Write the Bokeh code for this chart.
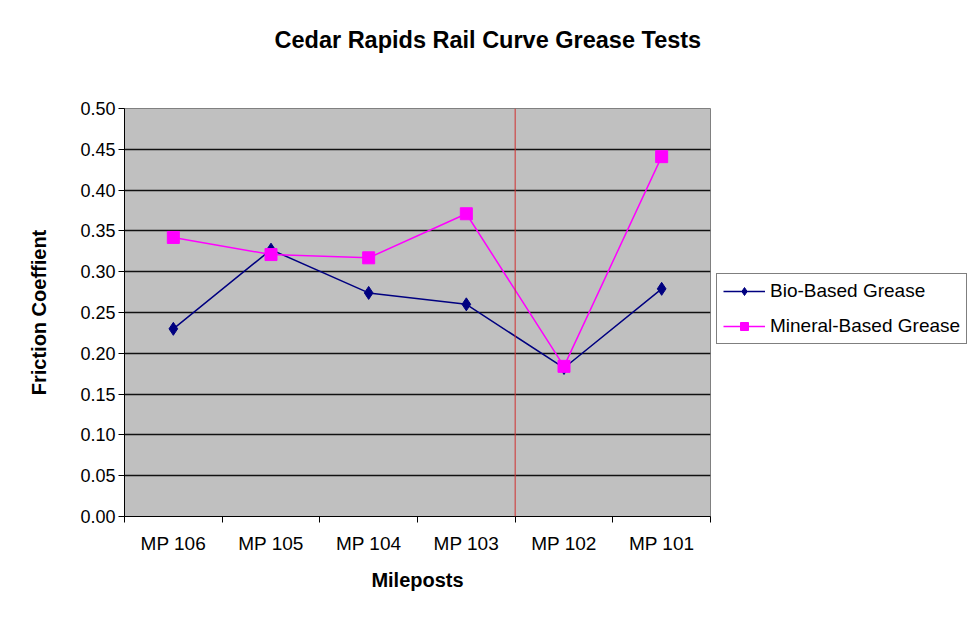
from bokeh.plotting import figure
from bokeh.layouts import row
from bokeh.models import (FixedTicker, Span, Legend, LegendItem,
                          ColumnDataSource, Range1d, NumeralTickFormatter)
from bokeh.embed import file_html
from bokeh.resources import INLINE

categories = ["MP 106", "MP 105", "MP 104", "MP 103", "MP 102", "MP 101"]
bio_based = [0.230, 0.327, 0.274, 0.260, 0.182, 0.279]
mineral_based = [0.342, 0.321, 0.317, 0.371, 0.184, 0.441]
y_ticks = [0.00, 0.05, 0.10, 0.15, 0.20, 0.25, 0.30, 0.35, 0.40, 0.45, 0.50]
series_names = ["Bio-Based Grease", "Mineral-Based Grease"]
divider_after = "MP 103"

xpos = [i + 0.5 for i in range(len(categories))]
src = ColumnDataSource(dict(x=xpos, cat=categories, bio=bio_based, mineral=mineral_based))

FONT = "Liberation Sans"
BIO_C = "#000080"
MIN_C = "#FF00FF"

p = figure(width=711, height=618, output_backend="svg", toolbar_location=None,
           x_range=Range1d(0, len(categories)), y_range=Range1d(0, 0.5),
           min_border_left=124, min_border_right=1, min_border_top=108,
           min_border_bottom=102)

p.background_fill_color = "#C0C0C0"
p.border_fill_color = "white"
p.outline_line_color = "#808080"
p.outline_line_width = 1

p.title.text = "Cedar Rapids Rail Curve Grease Tests\n"
p.title.text_font = FONT
p.title.text_font_style = "bold"
p.title.text_font_size = "23.5px"
p.title.text_line_height = 1.4
p.title.text_color = "black"
p.title.align = "left"
p.title.offset = 150
p.title.vertical_align = "top"
p.title.standoff = 36

# y axis
p.yaxis.ticker = FixedTicker(ticks=y_ticks)
p.yaxis.formatter = NumeralTickFormatter(format="0.00")
p.yaxis.axis_line_color = "black"
p.yaxis.major_tick_line_color = "black"
p.yaxis.major_tick_out = 6
p.yaxis.major_tick_in = 0
p.yaxis.minor_tick_line_color = None
p.yaxis.major_label_text_font = FONT
p.yaxis.major_label_text_font_size = "18px"
p.yaxis.major_label_text_color = "black"
p.yaxis.major_label_standoff = 3
p.yaxis.axis_label = "Friction Coeffient"
p.yaxis.axis_label_text_font = FONT
p.yaxis.axis_label_text_font_style = "bold"
p.yaxis.axis_label_text_font_size = "20px"
p.yaxis.axis_label_text_color = "black"
p.yaxis.axis_label_standoff = 27

# x axis: labels at centres, ticks at boundaries
p.xaxis.ticker = FixedTicker(ticks=xpos, minor_ticks=list(range(len(categories) + 1)))
p.xaxis.major_label_overrides = {x: c for x, c in zip(xpos, categories)}
p.xaxis.major_tick_line_color = None
p.xaxis.major_tick_out = 0
p.xaxis.major_tick_in = 0
p.xaxis.minor_tick_line_color = "black"
p.xaxis.minor_tick_out = 6
p.xaxis.minor_tick_in = 0
p.xaxis.axis_line_color = "black"
p.xaxis.major_label_text_font = FONT
p.xaxis.major_label_text_font_size = "19px"
p.xaxis.major_label_text_color = "black"
p.xaxis.major_label_standoff = 10
p.xaxis.axis_label = "Mileposts"
p.xaxis.axis_label_text_font = FONT
p.xaxis.axis_label_text_font_style = "bold"
p.xaxis.axis_label_text_font_size = "20px"
p.xaxis.axis_label_text_color = "black"
p.xaxis.axis_label_standoff = 12

p.xgrid.grid_line_color = None
p.ygrid.ticker = FixedTicker(ticks=y_ticks)
p.ygrid.grid_line_color = "#111111"
p.ygrid.grid_line_width = 1.6

div_x = categories.index(divider_after) + 1
p.add_layout(Span(location=div_x, dimension="height", line_color="#D03030", line_width=1))

p.line("x", "bio", source=src, line_color=BIO_C, line_width=1.5)
p.scatter("x", "bio", source=src, marker="diamond", size=13,
          fill_color=BIO_C, line_color=BIO_C)
p.line("x", "mineral", source=src, line_color=MIN_C, line_width=1.5)
p.scatter("x", "mineral", source=src, marker="square", size=12,
          fill_color=MIN_C, line_color=MIN_C)

# legend panel to the right of the chart (its series lie outside its view)
q = figure(width=257, height=618, output_backend="svg", toolbar_location=None,
           x_range=Range1d(100, 101), y_range=Range1d(100, 101),
           x_axis_location=None, y_axis_location=None,
           min_border_left=0, min_border_right=0, min_border_top=0, min_border_bottom=0)
q.grid.visible = False
q.outline_line_color = None
q.background_fill_color = "white"
q.border_fill_color = "white"
ql1 = q.line("x", "bio", source=src, line_color=BIO_C, line_width=1.5)
qm1 = q.scatter("x", "bio", source=src, marker="diamond", size=13,
                fill_color=BIO_C, line_color=BIO_C)
ql2 = q.line("x", "mineral", source=src, line_color=MIN_C, line_width=1.5)
qm2 = q.scatter("x", "mineral", source=src, marker="square", size=12,
                fill_color=MIN_C, line_color=MIN_C)

legend = Legend(items=[LegendItem(label=series_names[0], renderers=[ql1, qm1]),
                       LegendItem(label=series_names[1], renderers=[ql2, qm2])],
                location=(5, 172))
legend.border_line_color = "black"
legend.border_line_width = 1
legend.background_fill_color = "white"
legend.label_text_font = FONT
legend.label_text_font_size = "19px"
legend.label_text_color = "black"
legend.label_standoff = 5
legend.glyph_width = 42
legend.spacing = 13
legend.padding = 6
legend.margin = 0
q.add_layout(legend, "center")

layout = row(p, q, spacing=0)
open("out.html", "w").write(file_html(layout, INLINE))
